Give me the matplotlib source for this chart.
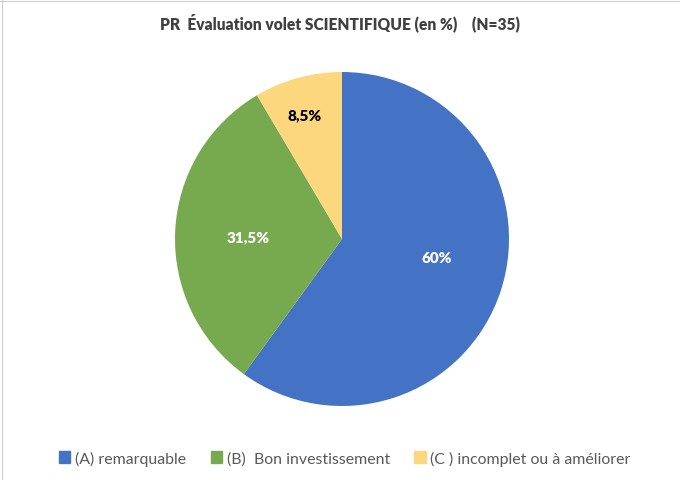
import matplotlib
matplotlib.use("Agg")
import matplotlib.pyplot as plt
from matplotlib.lines import Line2D
import numpy as np

categories = ["(A) remarquable", "(B)  Bon investissement", "(C ) incomplet ou à améliorer"]
values = [60, 31.5, 8.5]
value_labels = ["60%", "31,5%", "8,5%"]
title = "PR  Évaluation volet SCIENTIFIQUE (en %)    (N=35)"

colors = ["#4472C4", "#77A94F", "#FCD77E"]
label_colors = ["white", "white", "black"]
label_dist = [0.575, 0.565, 0.78]
label_angle_shift = [7, 1.5, 1.5]

plt.rcParams['font.family'] = ['Lato', 'DejaVu Sans']

W, H = 680, 481
fig = plt.figure(figsize=(W/100, H/100), dpi=100)
fig.patch.set_facecolor("white")

# faint spreadsheet border
fig.add_artist(Line2D([2/W, 2/W], [0, 1], color="#d0d0d0", lw=0.8))
fig.add_artist(Line2D([0, 1], [1 - 1.5/H, 1 - 1.5/H], color="#d0d0d0", lw=0.8))

cx, cy, r = 342, 240, 167
ax = fig.add_axes([(cx - r)/W, (H - cy - r)/H, 2*r/W, 2*r/H])
wedges, _ = ax.pie(values, colors=colors, startangle=90, counterclock=False,
                   radius=1.0, wedgeprops=dict(linewidth=0))
ax.set_xlim(-1, 1)
ax.set_ylim(-1, 1)
ax.set_aspect("equal")
ax.axis("off")

for w, lab, c, d, s in zip(wedges, value_labels, label_colors, label_dist, label_angle_shift):
    ang = np.deg2rad((w.theta1 + w.theta2) / 2 + s)
    ax.text(d*np.cos(ang), d*np.sin(ang), lab, ha="center", va="center",
            color=c, fontsize=11, fontweight="heavy")

fig.text(0.5, 1 - 23/H, title, ha="center", va="center", fontsize=11.2,
         fontweight="heavy", color="#404040")

handles = [plt.Rectangle((0, 0), 1, 1, color=c) for c in colors]
fig.legend(handles, categories, loc="center", bbox_to_anchor=(345/W, 1 - 459/H),
           ncol=3, frameon=False, fontsize=11.4, labelcolor="#595959",
           handlelength=0.7, handleheight=0.7, handletextpad=0.3, columnspacing=1.55)

fig.savefig("out.png", dpi=100, facecolor="white")
